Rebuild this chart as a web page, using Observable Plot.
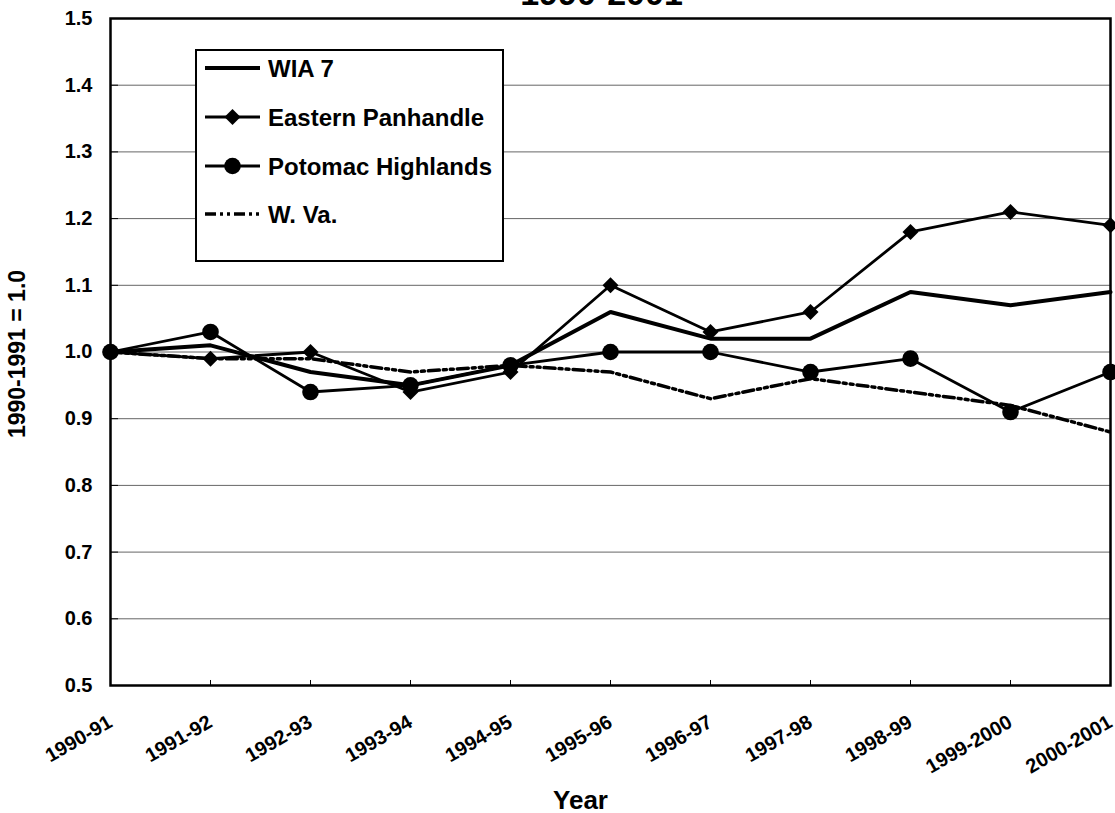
<!DOCTYPE html>
<html><head><meta charset="utf-8">
<script src="https://cdn.jsdelivr.net/npm/d3@7"></script>
<script src="https://cdn.jsdelivr.net/npm/@observablehq/plot@0.6"></script>
<style>
body{margin:0;background:#fff;overflow:hidden;font-family:"Liberation Sans",Arial,sans-serif}
#wrap{position:relative;width:1115px;height:813px;overflow:hidden}
#legend{position:absolute;left:195px;top:49px;width:309px;height:213px;box-sizing:border-box;border:2px solid #000;background:#fff}
#legend svg{display:block}
</style></head><body>
<div id="wrap"><div id="chart"></div><div id="legend"></div></div>
<script>
// ---- data ----
const years = ["1990-91","1991-92","1992-93","1993-94","1994-95","1995-96","1996-97","1997-98","1998-99","1999-2000","2000-2001"];
const wia7 = [1.00, 1.01, 0.97, 0.95, 0.98, 1.06, 1.02, 1.02, 1.09, 1.07, 1.09];
const easternPanhandle = [1.00, 0.99, 1.00, 0.94, 0.97, 1.10, 1.03, 1.06, 1.18, 1.21, 1.19];
const potomacHighlands = [1.00, 1.03, 0.94, 0.95, 0.98, 1.00, 1.00, 0.97, 0.99, 0.91, 0.97];
const wva = [1.00, 0.99, 0.99, 0.97, 0.98, 0.97, 0.93, 0.96, 0.94, 0.92, 0.88];
const seriesNames = ["WIA 7", "Eastern Panhandle", "Potomac Highlands", "W. Va."];
const yTicks = [0.5, 0.6, 0.7, 0.8, 0.9, 1.0, 1.1, 1.2, 1.3, 1.4, 1.5];
const titleText = "1990-2001";
const xLabel = "Year";
const yLabel = "1990-1991 = 1.0";

// ---- build table ----
const seriesValues = [wia7, easternPanhandle, potomacHighlands, wva];
const rows = [];
seriesNames.forEach((name, i) => years.forEach((yr, j) => rows.push({series: name, year: yr, value: seriesValues[i][j]})));
const bySeries = name => rows.filter(r => r.series === name);

const styles = {
  "WIA 7": {strokeWidth: 4},
  "Eastern Panhandle": {strokeWidth: 2.8},
  "Potomac Highlands": {strokeWidth: 2.8},
  "W. Va.": {strokeWidth: 3.5, strokeDasharray: "11,4,3,4,3,4"}
};

const W = 1115, H = 813;
const mL = 110, mR = 5, mT = 18, mB = 128;

const chart = Plot.plot({
  width: W, height: H,
  marginLeft: mL, marginRight: mR, marginTop: mT, marginBottom: mB,
  style: {fontFamily: "'Liberation Sans', Arial, sans-serif", fontWeight: "bold", color: "#000", background: "#fff", overflow: "visible"},
  x: {type: "point", domain: years, padding: 0},
  y: {domain: [0.5, 1.5]},
  marks: [
    Plot.ruleY(yTicks.slice(1, -1), {stroke: "#666", strokeWidth: 1}),
    Plot.tickY(yTicks, {y: d => d, stroke: "#000", strokeWidth: 1, insetRight: W - mL - mR - 8}),
    Plot.ruleX(years, {x: d => d, y1: 0.5, y2: 0.5075, stroke: "#000", strokeWidth: 1}),
    Plot.frame({stroke: "#000", strokeWidth: 2.5}),
    Plot.axisY({ticks: yTicks, tickFormat: d3.format(".1f"), tickSize: 0, tickPadding: 18, fontSize: 20, fontWeight: "bold", label: null}),
    Plot.axisX({tickSize: 0, tickRotate: -30, tickPadding: 35, fontSize: 20, fontWeight: "bold", label: null}),
    ...seriesNames.map(name => Plot.line(bySeries(name), {x: "year", y: "value", stroke: "#000", strokeLinejoin: "miter", ...styles[name]})),
    Plot.dot(bySeries("Eastern Panhandle"), {x: "year", y: "value", symbol: "diamond2", r: 7.2, fill: "#000", stroke: "none"}),
    Plot.dot(bySeries("Potomac Highlands"), {x: "year", y: "value", symbol: "circle", r: 8.3, fill: "#000", stroke: "none"}),
    Plot.text([titleText], {frameAnchor: "top", lineAnchor: "bottom", dy: -14, dx: -9, fontSize: 34, fontWeight: "bold"}),
    Plot.text([xLabel], {frameAnchor: "bottom", lineAnchor: "bottom", dy: 123, dx: -30, fontSize: 26, fontWeight: "bold"}),
    Plot.text([yLabel], {frameAnchor: "left", textAnchor: "middle", rotate: -90, dx: -92.5, dy: 2, fontSize: 23, fontWeight: "bold"})
  ]
});
document.getElementById("chart").appendChild(chart);

// ---- legend (inside plot area, as in the reference) ----
const lg = d3.select("#legend").append("svg").attr("width", 305).attr("height", 209)
  .style("font-family", "'Liberation Sans', Arial, sans-serif").style("font-weight", "bold");
const rowY = [17, 66, 115, 163];
seriesNames.forEach((name, i) => {
  const g = lg.append("g").attr("transform", `translate(0,${rowY[i]})`);
  const st = styles[name];
  g.append("line").attr("x1", 8).attr("x2", 63).attr("y1", 0).attr("y2", 0)
    .attr("stroke", "#000").attr("stroke-width", st.strokeWidth)
    .attr("stroke-dasharray", st.strokeDasharray || null);
  if (name === "Eastern Panhandle") g.append("path").attr("transform", "translate(35.5,0)").attr("d", d3.symbol(d3.symbolDiamond2, Math.PI * 7.2 * 7.2)()).attr("fill", "#000");
  if (name === "Potomac Highlands") g.append("circle").attr("cx", 35.5).attr("cy", 0).attr("r", 8.3).attr("fill", "#000");
  g.append("text").attr("x", 71).attr("y", 0).attr("dy", "0.36em").attr("font-size", 24).text(name);
});
</script>
</body></html>
